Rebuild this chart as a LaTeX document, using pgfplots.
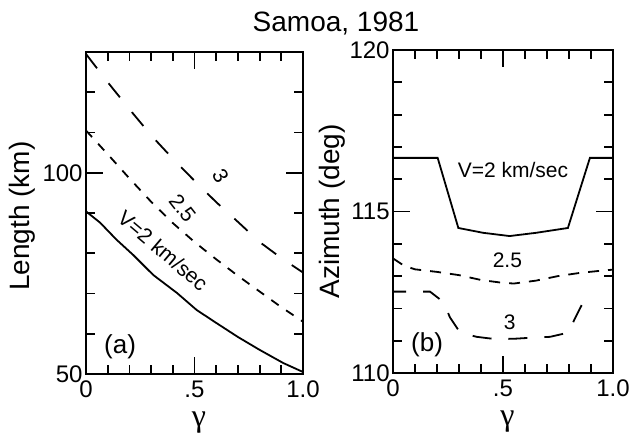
\documentclass[border=0pt]{standalone}
\usepackage{fontspec}
\setmainfont{Liberation Sans}
\newfontfamily\greekfont{Liberation Serif}
\usepackage{pgfplots}
\pgfplotsset{compat=1.18}

\pgfplotsset{
  panel/.style={
    scale only axis,
    axis line style={line width=1.1pt},
    every tick/.style={line width=0.9pt, black},
    major tick length=8.5pt,
    minor tick length=4.5pt,
    tick align=inside,
    xmin=0, xmax=1,
    xtick={0,0.5,1},
    xticklabels={0,.5,1.0},
    minor xtick={0.1,0.2,0.3,0.4,0.6,0.7,0.8,0.9},
    /pgf/number format/assume math mode=true,
    tick label style={font=\fontsize{12}{12}\selectfont},
    yticklabel style={inner xsep=1.5pt},
    label style={font=\fontsize{14}{16}\selectfont},
    xlabel={\greekfont\fontsize{16}{16}\selectfont γ},
    xlabel style={at={(axis description cs:0.52,-0.15)}, anchor=center},
    clip=false,
  },
  curve/.style={black, line width=0.9pt},
}

\begin{document}
\begin{tikzpicture}
\useasboundingbox (0,0) rectangle (315.5pt,217pt);

\node[font=\fontsize{14}{16}\selectfont, anchor=base] at (168pt,201pt) {Samoa, 1981};

% (a) rupture length
\begin{axis}[panel,
  at={(43pt,30pt)}, anchor=south west,
  width=108.5pt, height=161pt,
  ymin=50, ymax=130,
  ytick={50,100},
  minor ytick={60,70,80,90,110,120},
  ylabel={Length (km)},
  ylabel style={at={(axis description cs:-0.295,0.49)}, anchor=center},
]
\addplot[curve] coordinates {
  (0,90.4) (0.065,87.6) (0.14,83.4) (0.217,79.6) (0.31,74.6) (0.42,70.1)
  (0.51,65.9) (0.60,62.7) (0.70,59.2) (0.80,56.0) (0.91,52.7) (1.0,50.5)};
\addplot[curve, dash pattern=on 4.5pt off 4.5pt] coordinates {
  (0,110.5) (0.1,104.6) (0.2,98.6) (0.3,92.8) (0.4,87.5) (0.5,82.8)
  (0.6,78.5) (0.7,74.4) (0.8,70.5) (0.9,66.6) (1.0,63.0)};
\addplot[curve, dash pattern=on 9pt off 9.5pt] coordinates {
  (0,129.5) (0.1,122.5) (0.2,115.8) (0.3,109.3) (0.4,103.5) (0.5,98.0)
  (0.6,92.7) (0.7,87.8) (0.8,82.8) (0.9,78.8) (1.0,75.2)};
\node[rotate=-40.3, font=\fontsize{10.5}{12}\selectfont] at (axis cs:0.355,80.6) {V=2 km/sec};
\node[rotate=-52, font=\fontsize{10.5}{12}\selectfont] at (axis cs:0.445,91.2) {2.5};
\node[rotate=-60, font=\fontsize{10.5}{12}\selectfont] at (axis cs:0.62,99.1) {3};
\node[font=\fontsize{13}{14}\selectfont] at (axis cs:0.157,56.8) {(a)};
\end{axis}

% (b) rupture azimuth
\begin{axis}[panel,
  at={(196.5pt,30.5pt)}, anchor=south west,
  width=110pt, height=161.5pt,
  ymin=110, ymax=120,
  ytick={110,115,120},
  minor ytick={111,112,113,114,116,117,118,119},
  ylabel={Azimuth (deg)},
  ylabel style={at={(axis description cs:-0.277,0.50)}, anchor=center},
]
\addplot[curve] coordinates {
  (0,116.66) (0.203,116.66) (0.297,114.49) (0.41,114.34) (0.53,114.24)
  (0.65,114.34) (0.795,114.49) (0.895,116.66) (1.0,116.66)};
\addplot[curve, dash pattern=on 5.5pt off 4.5pt] coordinates {
  (0,113.55) (0.05,113.32) (0.1,113.21) (0.2,113.13) (0.3,113.03)
  (0.4,112.88) (0.5,112.79) (0.55,112.77) (0.65,112.86) (0.75,113.0)
  (0.85,113.1) (0.95,113.17) (1.0,113.2)};
\addplot[curve, dash pattern=on 9.5pt off 8.5pt, dash phase=3pt] coordinates {
  (0,112.52) (0.168,112.52) (0.229,112.2) (0.259,111.72) (0.305,111.25)
  (0.38,111.12) (0.464,111.05) (0.55,111.06) (0.623,111.09) (0.714,111.12)
  (0.797,111.25) (0.827,111.69) (0.865,112.2)};
\node[font=\fontsize{10.5}{12}\selectfont] at (axis cs:0.545,116.28) {V=2 km/sec};
\node[font=\fontsize{10.5}{12}\selectfont] at (axis cs:0.52,113.5) {2.5};
\node[font=\fontsize{10.5}{12}\selectfont] at (axis cs:0.53,111.58) {3};
\node[font=\fontsize{13}{14}\selectfont] at (axis cs:0.155,110.87) {(b)};
\end{axis}
\end{tikzpicture}
\end{document}
